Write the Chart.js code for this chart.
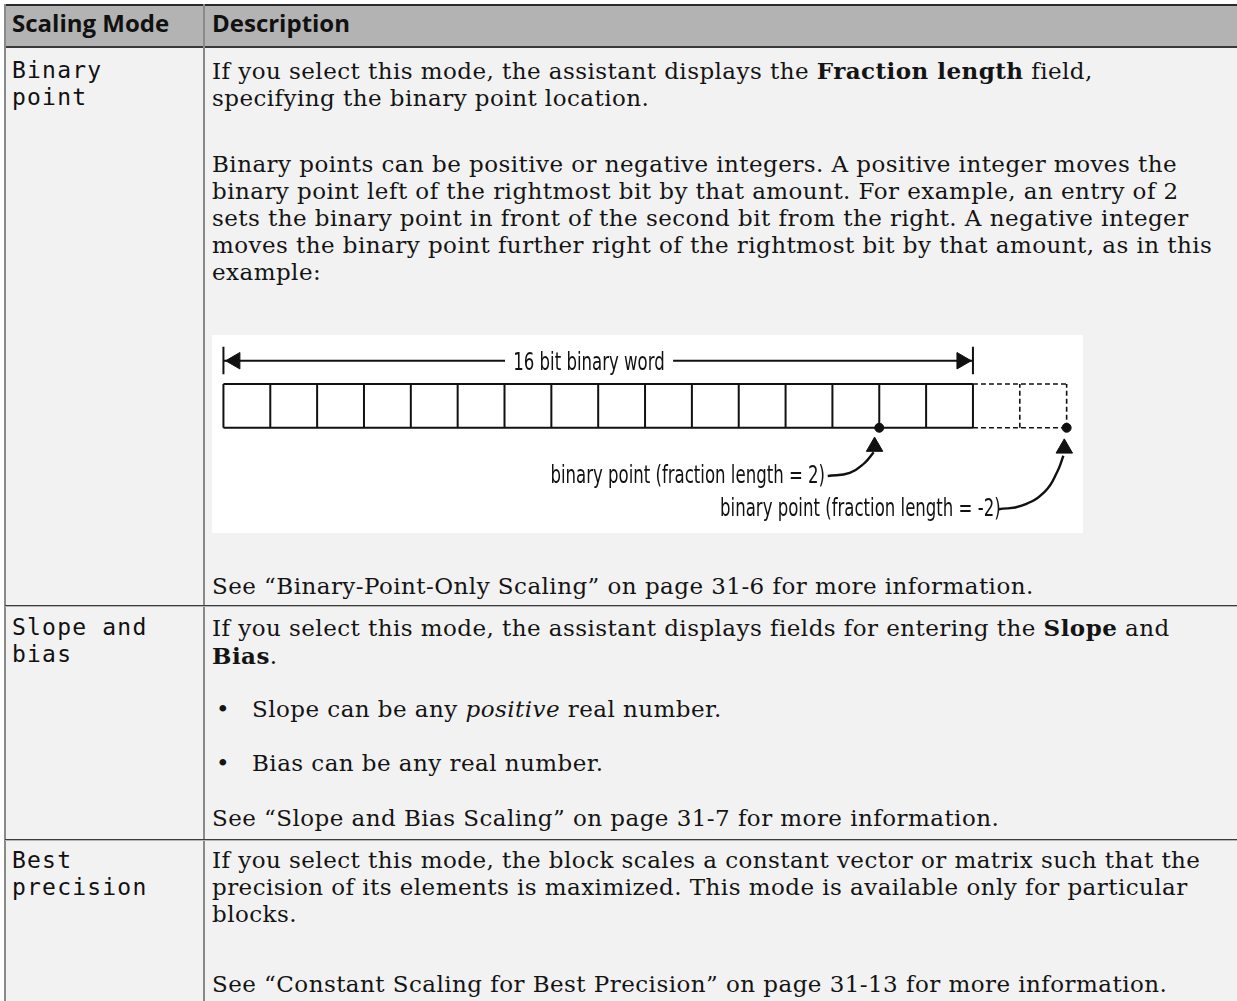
<!DOCTYPE html>
<html>
<head>
<meta charset="utf-8">
<script src="https://cdn.jsdelivr.net/npm/chart.js@4.4.1/dist/chart.umd.min.js"></script>
<style>
html,body{margin:0;padding:0;background:#fff;}
body{width:1237px;height:1001px;overflow:hidden;position:relative;font-family:"DejaVu Serif",serif;color:#141414;}
.a{position:absolute;white-space:nowrap;}
#table{left:5px;top:4px;width:1232px;height:997px;background:#f2f2f2;}
#hdr{left:5px;top:4px;width:1232px;height:44px;background:#b3b3b3;border-top:2px solid #2a2a2a;border-bottom:2px solid #3a3a3a;box-sizing:border-box;}
.vline{width:2px;background:#8a8a8a;}
.hline{height:1px;background:#3c3c3c;left:5px;width:1232px;box-shadow:0 1px 0 #b5b5b5;}
.h{font-family:"Open Sans",sans-serif;font-weight:700;font-size:24px;line-height:44px;top:1px;color:#111;}
.m{font-family:"DejaVu Sans Mono",monospace;font-size:23px;letter-spacing:1.2px;line-height:27px;left:12px;color:#111;}
.t,.bul,.bt{font-size:23px;letter-spacing:0.45px;line-height:27px;}
.t{left:212px;}
.t b{font-weight:700;}
.bul{left:216px;}
.bt{left:252px;}
#diag{left:212px;top:335px;width:871px;height:198px;background:#fff;}
#diag canvas{position:absolute;left:0;top:0;}
.lbl{position:absolute;font-family:"DejaVu Sans",sans-serif;font-size:24px;line-height:24px;white-space:nowrap;color:#111;letter-spacing:0;}
</style>
</head>
<body>
<div class="a" id="table"></div>
<div class="a" id="hdr"></div>
<div class="a vline" style="left:4px;top:4px;height:997px;"></div>
<div class="a vline" style="left:203px;top:4px;height:997px;"></div>
<div class="a hline" style="top:605px;"></div>
<div class="a hline" style="top:839px;"></div>

<div class="a h" style="left:12px;">Scaling Mode</div>
<div class="a h" style="left:212px;">Description</div>

<div class="a m" style="top:57px;">Binary<br>point</div>
<div class="a m" style="top:614px;">Slope and<br>bias</div>
<div class="a m" style="top:847px;">Best<br>precision</div>

<div class="a t" style="top:57px;">If you select this mode, the assistant displays the <b>Fraction length</b> field,<br>specifying the binary point location.</div>
<div class="a t" style="top:151px;">Binary points can be positive or negative integers. A positive integer moves the<br>binary point left of the rightmost bit by that amount. For example, an entry of 2<br>sets the binary point in front of the second bit from the right. A negative integer<br>moves the binary point further right of the rightmost bit by that amount, as in this<br>example:</div>

<div class="a" id="diag"><canvas id="c" width="871" height="198"></canvas></div>

<div class="a t" style="top:573px;">See “Binary-Point-Only Scaling” on page 31-6 for more information.</div>

<div class="a t" style="top:614px;">If you select this mode, the assistant displays fields for entering the <b>Slope</b> and<br><b>Bias</b>.</div>
<div class="a bul" style="top:696px;">•</div>
<div class="a bt" style="top:696px;">Slope can be any <i>positive</i> real number.</div>
<div class="a bul" style="top:750px;">•</div>
<div class="a bt" style="top:750px;">Bias can be any real number.</div>
<div class="a t" style="top:805px;">See “Slope and Bias Scaling” on page 31-7 for more information.</div>

<div class="a t" style="top:847px;">If you select this mode, the block scales a constant vector or matrix such that the<br>precision of its elements is maximized. This mode is available only for particular<br>blocks.</div>
<div class="a t" style="top:971px;">See “Constant Scaling for Best Precision” on page 31-13 for more information.</div>

<script>
// ---- data ----
const wordBoundaries = [16, 15, 14, 13, 12, 11, 10, 9, 8, 7, 6, 5, 4, 3, 2, 1, 0];
const extensionBoundaries = [0, -1, -2];
const fractionLengths = [2, -2];
const wordLabel = '16 bit binary word';
const pointLabels = ['binary point (fraction length = 2)', 'binary point (fraction length = -2)'];
// callout curves, in bit / row units
const calloutCurve1 = [[3.1, -1.1], [2.63, -1.03], [2.31, -0.8], [2.12, -0.56]];
const calloutCurve2 = [[-0.55, -1.86], [-1.04, -1.78], [-1.54, -1.45], [-1.81, -0.98], [-1.93, -0.64]];

// ---- build geometry from data ----
const GAP = {x: NaN, y: NaN};
function boxOutline(bounds) {
  const lo = Math.min(...bounds), hi = Math.max(...bounds);
  return [{x: hi, y: 1}, {x: lo, y: 1}, GAP, {x: hi, y: 0}, {x: lo, y: 0}, GAP];
}
function verticals(bounds) {
  const pts = [];
  bounds.forEach(b => { pts.push({x: b, y: 0}, {x: b, y: 1}, GAP); });
  return pts;
}
const wordHi = Math.max(...wordBoundaries), wordLo = Math.min(...wordBoundaries);
const arrowY = 1.53;
const solidPts = boxOutline(wordBoundaries).concat(verticals(wordBoundaries));
const dashedPts = boxOutline(extensionBoundaries).concat(verticals(extensionBoundaries.filter(b => b !== 0)));
const wordArrow = [{x: wordHi, y: arrowY}, {x: wordLo, y: arrowY}, GAP,
  {x: wordHi, y: 1.22}, {x: wordHi, y: 1.85}, GAP, {x: wordLo, y: 1.22}, {x: wordLo, y: 1.85}];
const heads = [
  {x: wordHi - 0.25, y: arrowY, r: 270},
  {x: wordLo + 0.24, y: arrowY, r: 90},
  {x: fractionLengths[0] + 0.1, y: -0.43, r: 0},
  {x: fractionLengths[1] + 0.05, y: -0.47, r: 0}
];
const ink = '#111';
const lineDs = (data, extra) => Object.assign({
  data, showLine: true, borderColor: ink, borderWidth: 2, pointRadius: 0,
  fill: false, spanGaps: false, clip: false, tension: 0
}, extra || {});

const chart = new Chart(document.getElementById('c'), {
  type: 'scatter',
  data: {
    datasets: [
      lineDs(solidPts),
      lineDs(dashedPts, {borderDash: [5, 3], borderWidth: 1.6}),
      lineDs(wordArrow),
      lineDs(calloutCurve1.map(p => ({x: p[0], y: p[1]})), {tension: 0.45, borderWidth: 2.4}),
      lineDs(calloutCurve2.map(p => ({x: p[0], y: p[1]})), {tension: 0.45, borderWidth: 2.4}),
      {data: heads.map(h => ({x: h.x, y: h.y})), pointStyle: 'triangle', pointRadius: 9.5,
       rotation: heads.map(h => h.r), backgroundColor: ink, borderColor: ink, borderWidth: 1, clip: false},
      {data: fractionLengths.map(f => ({x: f, y: 0})), pointRadius: 4.5, pointStyle: 'circle',
       backgroundColor: ink, borderColor: ink, clip: false}
    ]
  },
  options: {
    responsive: false, animation: false, events: [],
    layout: {padding: 0},
    plugins: {legend: {display: false}, tooltip: {enabled: false}},
    scales: {
      x: {type: 'linear', reverse: true, min: -2.125, max: 16.02, display: false},
      y: {type: 'linear', min: -2.163, max: 1.878, display: false}
    }
  },
  plugins: [{
    id: 'labels',
    afterRender(ch) {
      const wrap = document.getElementById('diag');
      wrap.querySelectorAll('.lbl').forEach(e => e.remove());
      const xs = ch.scales.x, ys = ch.scales.y;
      const W = ch.width;
      const add = (text, b, v, align) => {
        const el = document.createElement('div');
        el.className = 'lbl';
        el.textContent = text;
        const px = xs.getPixelForValue(b), py = ys.getPixelForValue(v);
        el.style.top = py + 'px';
        if (align === 'center') {
          el.style.left = px + 'px';
          el.style.background = '#fff';
          el.style.padding = '0 12px';
          el.style.transform = 'translate(-50%,-50%) scaleX(0.69)';
        } else {
          el.style.right = (W - px) + 'px';
          el.style.transformOrigin = '100% 50%';
          el.style.transform = 'translateY(-50%) scaleX(0.69)';
        }
        wrap.appendChild(el);
      };
      add(wordLabel, 8.2, arrowY - 0.02, 'center');
      add(pointLabels[0], 3.15, -1.08, 'right');
      add(pointLabels[1], -0.6, -1.84, 'right');
    }
  }]
});
</script>
</body>
</html>
